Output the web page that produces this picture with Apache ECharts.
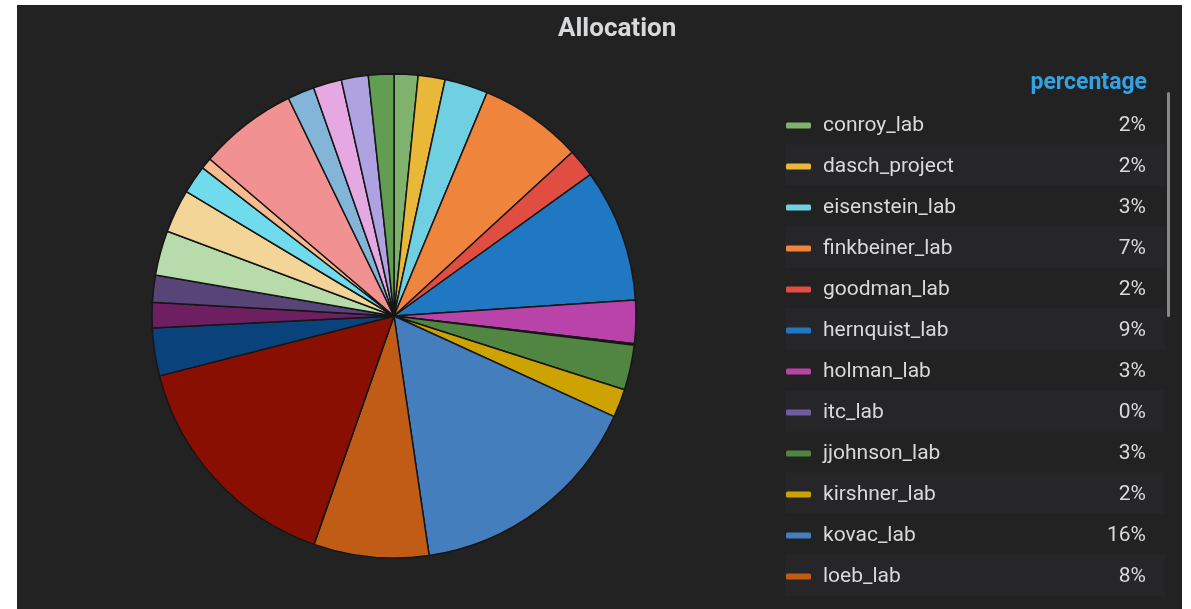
<!DOCTYPE html>
<html>
<head>
<meta charset="utf-8">
<script src="https://cdn.jsdelivr.net/npm/echarts@6/dist/echarts.min.js"></script>
<style>
  html, body { margin: 0; padding: 0; background: #ffffff; width: 1191px; height: 609px; overflow: hidden; }
  #chart { position: absolute; left: 17px; top: 5px; width: 1165px; height: 604px; background: #222223; }
</style>
</head>
<body>
<div id="chart"></div>
<script>
// Slice names (alphabetical, as in the legend; hidden legend rows are unreadable)
const names = [
  'conroy_lab', 'dasch_project', 'eisenstein_lab', 'finkbeiner_lab', 'goodman_lab',
  'hernquist_lab', 'holman_lab', 'itc_lab', 'jjohnson_lab', 'kirshner_lab',
  'kovac_lab', 'loeb_lab',
  'group_13', 'group_14', 'group_15', 'group_16', 'group_17', 'group_18',
  'group_19', 'group_20', 'group_21', 'group_22', 'group_23', 'group_24', 'group_25'
];
// Share of allocation (percent)
const values = [
  1.6, 1.8, 2.9, 6.9, 1.9,
  8.9, 2.9, 0.1, 3.0, 1.9,
  15.9, 7.7,
  15.7, 3.2, 1.7, 1.8, 3.0, 2.9,
  1.9, 0.75, 6.6, 1.8, 1.9, 1.8, 1.7
];
// Legend rows that are visible in the panel
const legendNames = names.slice(0, 12);
const colors = [
  '#7EB26D', '#EAB839', '#6ED0E0', '#EF843C', '#E24D42', '#1F78C1', '#BA43A9', '#705DA0',
  '#508642', '#CCA300', '#447EBC', '#C15C17', '#890F02', '#0A437C', '#6D1F62', '#584477',
  '#B7DBAB', '#F4D598', '#70DBED', '#F9BA8F', '#F29191', '#82B5D8', '#E5A8E2', '#AEA2E0',
  '#629E51'
];

const total = values.reduce((a, b) => a + b, 0);
const pct = {};
names.forEach((n, i) => { pct[n] = Math.round(values[i] / total * 100) + '%'; });

const chart = echarts.init(document.getElementById('chart'), null, { renderer: 'canvas' });

// legend layout constants
const LEG_LEFT = 769, LEG_ROW = 41, LEG_FIRST = 119, ITEM_H = 21;
const stripes = [];
for (let i = 1; i < legendNames.length; i += 2) {
  stripes.push({
    type: 'rect', z: -1,
    shape: { x: 768, y: LEG_FIRST + i * LEG_ROW - LEG_ROW / 2, width: 380, height: LEG_ROW },
    style: { fill: '#262628' }
  });
}

chart.setOption({
  backgroundColor: '#222223',
  color: colors,
  title: {
    text: 'Allocation',
    left: 536, top: 6,
    textStyle: { color: '#d8d9da', fontFamily: 'Roboto', fontSize: 26, fontWeight: 'bold' }
  },
  graphic: stripes.concat([
    {
      type: 'text', x: 1130, y: 78,
      style: { text: 'percentage', fill: '#33a2e5', font: 'bold 23px Roboto', align: 'right', verticalAlign: 'middle' }
    },
    {
      type: 'rect', shape: { x: 1150, y: 87, width: 3, height: 225, r: 1.5 },
      style: { fill: '#8a8a8c' }
    }
  ]),
  legend: {
    data: legendNames,
    orient: 'vertical',
    left: LEG_LEFT,
    top: LEG_FIRST - 9,
    padding: 0,
    itemGap: LEG_ROW - ITEM_H,
    itemWidth: 25,
    itemHeight: 6,
    icon: 'roundRect',
    itemStyle: { borderWidth: 0 },
    selectedMode: false,
    formatter: (n) => '{n|' + n + '}{v|' + pct[n] + '}',
    textStyle: {
      color: '#d8d9da', fontFamily: 'Roboto', fontSize: 21,
      rich: {
        n: { width: 283, padding: [0, 0, 0, 7], color: '#d8d9da', fontFamily: 'Roboto', fontSize: 21, lineHeight: 22 },
        v: { width: 40, align: 'right', color: '#d8d9da', fontFamily: 'Roboto', fontSize: 21, lineHeight: 22 }
      }
    }
  },
  series: [{
    type: 'pie',
    center: [377, 311],
    radius: [0, 242],
    startAngle: 90,
    clockwise: true,
    label: { show: false },
    labelLine: { show: false },
    itemStyle: { borderColor: '#161616', borderWidth: 1.5 },
    emphasis: { disabled: true },
    animation: false,
    data: names.map((n, i) => ({ name: n, value: values[i] }))
  }],
  animation: false
});
</script>
</body>
</html>
